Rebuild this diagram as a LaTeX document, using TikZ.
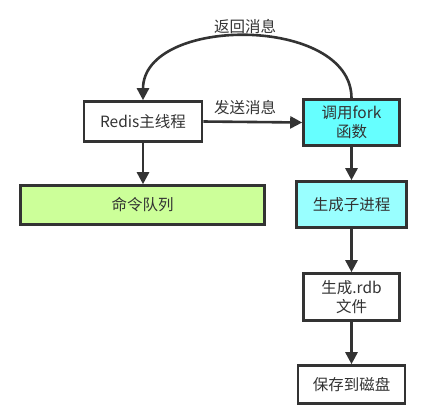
\documentclass[tikz,border=0pt]{standalone}
\usepackage{fontspec}
\setmainfont{Noto Sans CJK SC}
\usetikzlibrary{arrows.meta}
\definecolor{ink}{HTML}{333333}
\definecolor{forkcyan}{HTML}{66FFFF}
\definecolor{childcyan}{HTML}{99FFFF}
\definecolor{queuegreen}{HTML}{CCFF99}
\begin{document}
\begin{tikzpicture}[x=1pt, y=-1pt,
 box/.style={shape=rectangle, draw=ink, line width=2.6pt, fill=white, text=ink, align=center, inner sep=2pt},
 arr/.style={draw=ink, line width=2.6pt, -{Triangle[length=12pt,width=12pt]}},
 lbl/.style={text=ink, inner sep=1pt},
 font=\fontsize{15.5}{19}\selectfont
]

\useasboundingbox (0,0) rectangle (435,416);

% main process side
\node (redis) at (143,121.5) [box, minimum width=118pt, minimum height=40pt] {Redis主线程};
\node (queue) at (142.5,205) [box, fill=queuegreen, minimum width=244pt, minimum height=39pt] {命令队列};

% fork side
\node (fork) at (351.5,122.5) [box, fill=forkcyan, minimum width=96pt, minimum height=46pt] {调用fork\\函数};
\node (child) at (351.5,204.5) [box, fill=childcyan, minimum width=110pt, minimum height=46pt] {生成子进程};
\node (rdb) at (351.5,297) [box, minimum width=96pt, minimum height=47pt] {生成.rdb\\文件};
\node (disk) at (351.5,384.5) [box, minimum width=107pt, minimum height=38pt] {保存到磁盘};

% connectors
\draw[arr] (redis.south) -- (redis.south |- queue.north);
\draw[arr] (redis.east) -- (fork.west);
\node (send) at (245,107.5) [lbl] {发送消息};
\draw[arr] (fork.north) .. controls +(0,-83) and +(0,-85) .. (redis.north);
\node (back) at (245,26.5) [lbl] {返回消息};
\draw[arr] (fork) -- (child);
\draw[arr] (child) -- (rdb);
\draw[arr] (rdb) -- (disk);

\end{tikzpicture}
\end{document}
